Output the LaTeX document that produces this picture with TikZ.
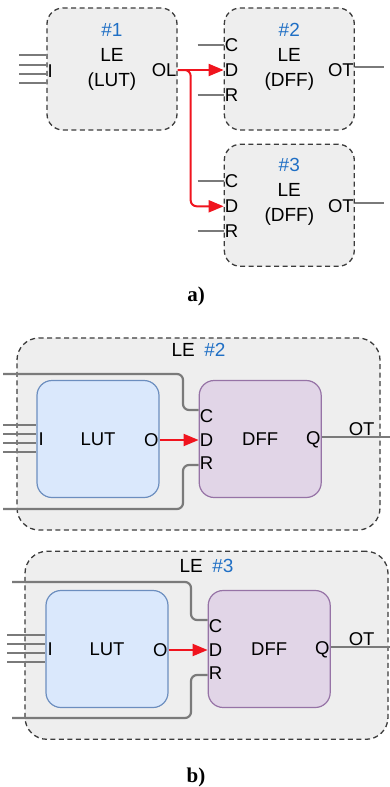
\documentclass[tikz,border=0pt]{standalone}
\usepackage{fontspec}
\setmainfont{Liberation Sans}
\newfontfamily\capfont{Liberation Serif}
\usetikzlibrary{positioning,arrows.meta}
\definecolor{legray}{HTML}{EEEEEE}
\definecolor{leedge}{HTML}{3C3C3C}
\definecolor{leblue}{HTML}{1F6FC5}
\definecolor{lutfill}{HTML}{DAE8FC}
\definecolor{lutedge}{HTML}{6C8EBF}
\definecolor{dfffill}{HTML}{E1D5E7}
\definecolor{dffedge}{HTML}{9673A6}
\definecolor{wiregray}{HTML}{7A7A7A}
\definecolor{sigred}{HTML}{F0141E}

\begin{document}
\begin{tikzpicture}[
  x=1pt, y=-1pt,
  lebox/.style={rectangle, rounded corners=16pt, draw=leedge, fill=legray, line width=1.3pt, dash pattern=on 5pt off 3.5pt, minimum width=130pt, minimum height=122pt, inner sep=0pt},
  bigbox/.style={lebox, rounded corners=22pt, minimum width=363pt},
  lutbox/.style={rectangle, rounded corners=15pt, draw=lutedge, fill=lutfill, line width=1.2pt, minimum width=122pt, minimum height=117pt, font=\fontsize{18.5}{21}\selectfont},
  dffbox/.style={lutbox, draw=dffedge, fill=dfffill},
  letext/.style={align=center, font=\fontsize{19}{25}\selectfont, inner sep=0pt},
  pin/.style={inner sep=1pt, font=\fontsize{18.5}{20}\selectfont},
  bpin/.style={inner sep=1pt, font=\fontsize{18.5}{20}\selectfont},
  wire/.style={draw=wiregray, line width=2.2pt},
  sig/.style={draw=sigred, line width=2pt, -{Triangle[length=15pt,width=12pt]}, sigred},
  partlab/.style={font=\capfont\bfseries\fontsize{21}{23}\selectfont}
]
\useasboundingbox (0,0) rectangle (390,787);

% a) three logic elements
\node[lebox] (le1) at (112,69) {};
\node[lebox, right=46pt of le1] (le2) {};
\node[lebox, below=13pt of le2] (le3) {};

\node[letext] (le1txt) at ([yshift=12pt]le1.center) {\textcolor{leblue}{\#1}\\LE\\(LUT)};
\node[letext] (le2txt) at ([yshift=12pt]le2.center) {\textcolor{leblue}{\#2}\\LE\\(DFF)};
\node[letext] (le3txt) at ([yshift=13pt]le3.center) {\textcolor{leblue}{\#3}\\LE\\(DFF)};

\node[pin, anchor=west] (i1) at ([yshift=-2pt]le1.west) {I};
\node[pin, anchor=east] (ol) at ([yshift=-1pt]le1.east) {OL};
\foreach \yy [count=\k] in {55,65,74,83} {
  \coordinate (i1in\k) at (19,\yy);
  \draw[wire] (i1in\k) -- (i1in\k -| le1.west);
}

\foreach \le in {2,3} {
  \node[pin, anchor=west] (c\le) at ([yshift=24pt]le\le.west) {C};
  \node[pin, anchor=west] (d\le) at ([yshift=-1pt]le\le.west) {D};
  \node[pin, anchor=west] (r\le) at ([yshift=-26pt]le\le.west) {R};
  \node[pin, anchor=east] (ot\le) at ([yshift=-1pt]le\le.east) {OT};
  \coordinate (c\le in) at ([xshift=-26pt]c\le.west);
  \coordinate (r\le in) at ([xshift=-26pt]r\le.west);
  \coordinate (ot\le out) at ([xshift=29pt,yshift=2pt]le\le.east);
  \draw[wire] (c\le in) -- (c\le.west);
  \draw[wire] (r\le in) -- (r\le.west);
  \draw[wire] (ot\le out -| le\le.east) -- (ot\le out);
}

\coordinate (olsplit) at ([xshift=13pt]ol.east);
\draw[sig] (ol.east) -- (d2.west);
\draw[sig, rounded corners=6pt] (ol.east) -- (olsplit) |- (d3.west);

\node[partlab] (laba) at (196,296) {a)};

% b) LUT and DFF inside each element
\node[bigbox, minimum height=192pt] (leb2) at (198.5,434) {};
\node[bigbox, minimum height=188pt, below=20pt of leb2, xshift=8pt] (leb3) {};

\node[letext] (leb2txt) at ([yshift=-13pt]leb2.north) {LE\enspace\textcolor{leblue}{\#2}};
\node[letext] (leb3txt) at ([yshift=-15pt]leb3.north) {LE\enspace\textcolor{leblue}{\#3}};

\node[lutbox] (luta) at (98,439) {LUT};
\node[dffbox, right=39pt of luta] (dffa) {DFF};
\node[lutbox] (lutb) at (107,649) {LUT};
\node[dffbox, right=39pt of lutb] (dffb) {DFF};

\foreach \el/\lu/\df/\xin/\xout in {a/luta/dffa/3/390, b/lutb/dffb/7/390} {
  \node[bpin, anchor=west] (in\el) at ([xshift=1pt]\lu.west) {I};
  \node[bpin, anchor=east] (o\el) at ([yshift=-1pt]\lu.east) {O};
  \node[bpin, anchor=west] (pc\el) at ([yshift=23pt]\df.west) {C};
  \node[bpin, anchor=west] (pd\el) at ([yshift=-1pt]\df.west) {D};
  \node[bpin, anchor=west] (pr\el) at ([yshift=-24pt]\df.west) {R};
  \node[bpin, anchor=east] (q\el) at ([yshift=-1pt]\df.east) {Q};
  \foreach \dy [count=\k] in {14,5,-4,-13} {
    \coordinate (lin\el\k) at ([yshift=\dy pt]\lu.west);
    \draw[wire] (lin\el\k -| \xin,0) -- (lin\el\k);
  }
  \coordinate (qout\el) at ([yshift=2pt]\df.east);
  \coordinate (qend\el) at (qout\el -| \xout,0);
  \draw[wire] (qout\el) -- (qend\el);
  \node[bpin, anchor=south east] (ot\el) at ([xshift=-5pt]qout\el -| leb2.east) {OT};
  \draw[sig] (o\el.east) -- (\df.west |- pd\el);
}

% clock and reset wires
\coordinate (ctopa) at (3,374);
\coordinate (cbenda) at (183,410);
\coordinate (rbota) at (3,509);
\coordinate (rbenda) at (183,465);
\draw[wire, rounded corners=6pt] (ctopa) -| (cbenda) -- (cbenda -| dffa.west);
\draw[wire, rounded corners=6pt] (rbota) -| (rbenda) -- (rbenda -| dffa.west);

\coordinate (ctopb) at (12,582);
\coordinate (cbendb) at (191,620);
\coordinate (rbotb) at (12,718);
\coordinate (rbendb) at (191,675);
\draw[wire, rounded corners=6pt] (ctopb) -| (cbendb) -- (cbendb -| dffb.west);
\draw[wire, rounded corners=6pt] (rbotb) -| (rbendb) -- (rbendb -| dffb.west);

\node[partlab] (labb) at (196,777) {b)};
\end{tikzpicture}
\end{document}
